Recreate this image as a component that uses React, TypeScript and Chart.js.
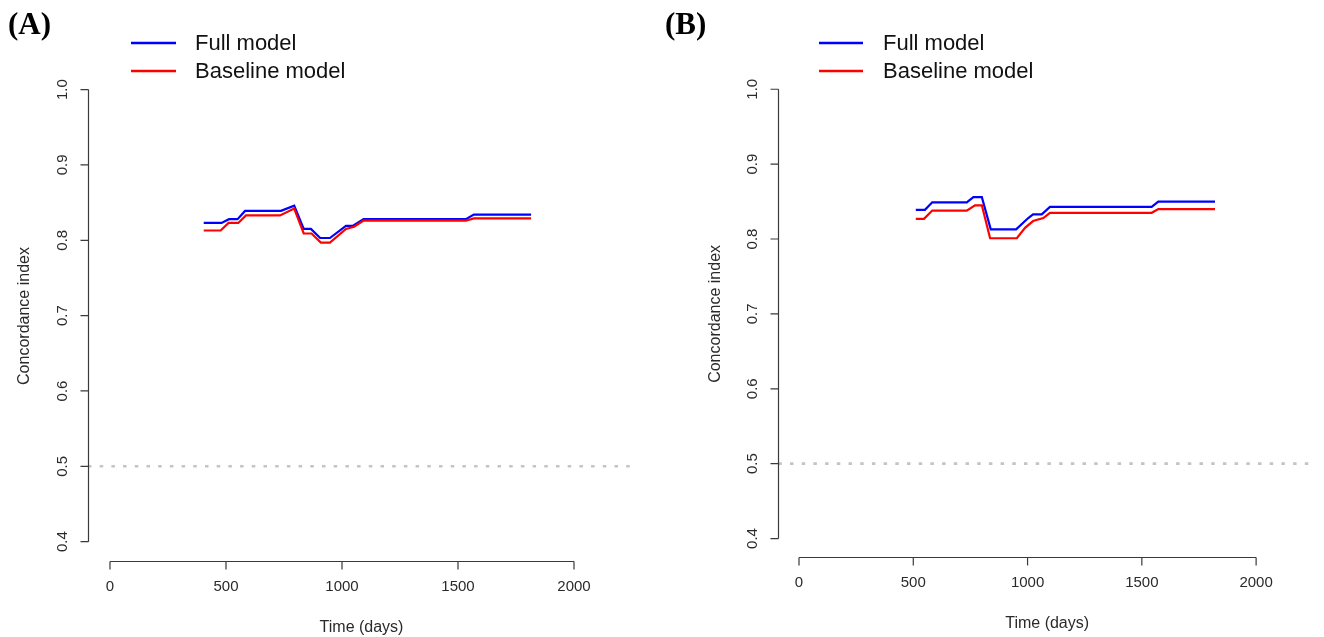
import React, { useEffect, useRef } from "react";
import { Chart, registerables } from "chart.js";

Chart.register(...registerables);

// ---------- data ----------
const xTickValues = [0, 500, 1000, 1500, 2000];
const xTickLabels = ["0", "500", "1000", "1500", "2000"];
const yTickValues = [0.4, 0.5, 0.6, 0.7, 0.8, 0.9, 1.0];
const yTickLabels = ["0.4", "0.5", "0.6", "0.7", "0.8", "0.9", "1.0"];
const seriesNames = ["Full model", "Baseline model"];
const seriesColors = ["#0000ff", "#ff0000"];
const referenceLevel = 0.5;
const xAxisTitle = "Time (days)";
const yAxisTitle = "Concordance index";
const panelLabels = ["(A)", "(B)"];

// Panel A
const timeAFull = [404, 481, 513, 550, 582, 737, 794, 835, 866, 906, 948, 1017, 1046, 1093, 1534, 1568, 1815];
const cindexAFull = [0.823, 0.823, 0.828, 0.828, 0.839, 0.839, 0.846, 0.815, 0.815, 0.803, 0.803, 0.819, 0.819, 0.828, 0.828, 0.834, 0.834];
const timeABase = [404, 477, 511, 553, 586, 733, 794, 835, 869, 909, 948, 1017, 1052, 1093, 1534, 1568, 1815];
const cindexABase = [0.813, 0.813, 0.823, 0.823, 0.833, 0.833, 0.842, 0.809, 0.809, 0.797, 0.797, 0.815, 0.818, 0.826, 0.826, 0.829, 0.829];

// Panel B
const timeBFull = [511, 551, 583, 734, 763, 800, 839, 950, 1003, 1024, 1062, 1098, 1543, 1572, 1820];
const cindexBFull = [0.839, 0.839, 0.849, 0.849, 0.856, 0.856, 0.813, 0.813, 0.828, 0.833, 0.833, 0.843, 0.843, 0.850, 0.850];
const timeBBase = [511, 547, 583, 734, 770, 800, 836, 953, 989, 1024, 1069, 1098, 1543, 1572, 1820];
const cindexBBase = [0.827, 0.827, 0.838, 0.838, 0.845, 0.845, 0.801, 0.801, 0.815, 0.824, 0.828, 0.835, 0.835, 0.840, 0.840];

// ---------- layout ----------
type PanelSpec = {
  label: string;
  canvasLeft: number;
  padding: { left: number; right: number; top: number; bottom: number };
  xMin: number;
  xMax: number;
  yMin: number;
  yMax: number;
  full: { t: number[]; c: number[] };
  base: { t: number[]; c: number[] };
  legendLineX: [number, number];
  legendTextX: number;
  legendY: [number, number];
  labelX: number;
};

const W = 662;
const H = 637;

const panels: PanelSpec[] = [
  {
    label: panelLabels[0],
    canvasLeft: 0,
    padding: { left: 88, right: W - 635, top: 71.5, bottom: H - 560.5 },
    xMin: -94.8,
    xMax: 2262.9,
    yMin: 0.375,
    yMax: 1.024,
    full: { t: timeAFull, c: cindexAFull },
    base: { t: timeABase, c: cindexABase },
    legendLineX: [131, 176],
    legendTextX: 195,
    legendY: [43, 71],
    labelX: 8,
  },
  {
    label: panelLabels[1],
    canvasLeft: 662,
    padding: { left: 116.3, right: W - 654, top: 71.3, bottom: H - 556.5 },
    xMin: -90.6,
    xMax: 2262,
    yMin: 0.376,
    yMax: 1.024,
    full: { t: timeBFull, c: cindexBFull },
    base: { t: timeBBase, c: cindexBBase },
    legendLineX: [819 - 662, 863 - 662],
    legendTextX: 883 - 662,
    legendY: [43, 71],
    labelX: 3,
  },
];

const FONT = "'Liberation Sans', Arial, sans-serif";

function makeAxesPlugin(spec: PanelSpec) {
  return {
    id: "rStyleAxes",
    afterDraw(chart: any) {
      const ctx: CanvasRenderingContext2D = chart.ctx;
      const xs = chart.scales.x;
      const ys = chart.scales.y;
      const area = chart.chartArea;
      ctx.save();
      ctx.strokeStyle = "#3a3a3a";
      ctx.fillStyle = "#2a2a2a";
      ctx.lineWidth = 1.2;

      // y axis
      const x0 = Math.round(area.left) + 0.5;
      const yTop = ys.getPixelForValue(yTickValues[yTickValues.length - 1]);
      const yBot = ys.getPixelForValue(yTickValues[0]);
      ctx.beginPath();
      ctx.moveTo(x0, yTop);
      ctx.lineTo(x0, yBot);
      yTickValues.forEach((v) => {
        const py = ys.getPixelForValue(v);
        ctx.moveTo(x0 - 8, py);
        ctx.lineTo(x0, py);
      });
      ctx.stroke();
      ctx.font = `15px ${FONT}`;
      ctx.textAlign = "center";
      ctx.textBaseline = "middle";
      yTickValues.forEach((v, i) => {
        const py = ys.getPixelForValue(v);
        ctx.save();
        ctx.translate(x0 - 26, py);
        ctx.rotate(-Math.PI / 2);
        ctx.fillText(yTickLabels[i], 0, 0);
        ctx.restore();
      });

      // x axis
      const y0 = Math.round(area.bottom) + 0.5;
      const xL = xs.getPixelForValue(xTickValues[0]);
      const xR = xs.getPixelForValue(xTickValues[xTickValues.length - 1]);
      ctx.beginPath();
      ctx.moveTo(xL, y0);
      ctx.lineTo(xR, y0);
      xTickValues.forEach((v) => {
        const px = xs.getPixelForValue(v);
        ctx.moveTo(px, y0);
        ctx.lineTo(px, y0 + 8);
      });
      ctx.stroke();
      xTickValues.forEach((v, i) => {
        const px = xs.getPixelForValue(v);
        ctx.fillText(xTickLabels[i], px, y0 + 25);
      });

      // axis titles
      ctx.font = `16px ${FONT}`;
      ctx.fillText(xAxisTitle, (area.left + area.right) / 2, y0 + 66);
      ctx.save();
      ctx.translate(area.left - 63, (area.top + area.bottom) / 2);
      ctx.rotate(-Math.PI / 2);
      ctx.fillText(yAxisTitle, 0, 0);
      ctx.restore();

      // legend
      ctx.font = `22px ${FONT}`;
      ctx.textAlign = "left";
      ctx.fillStyle = "#111";
      seriesNames.forEach((name, i) => {
        const ly = spec.legendY[i];
        ctx.strokeStyle = seriesColors[i];
        ctx.lineWidth = 2.5;
        ctx.beginPath();
        ctx.moveTo(spec.legendLineX[0], ly);
        ctx.lineTo(spec.legendLineX[1], ly);
        ctx.stroke();
        ctx.fillText(name, spec.legendTextX, ly + 1);
      });

      // panel label
      ctx.font = `bold 31px 'Liberation Serif', 'Times New Roman', serif`;
      ctx.fillStyle = "#000";
      ctx.textBaseline = "middle";
      ctx.fillText(spec.label, spec.labelX, 26);
      ctx.restore();
    },
  };
}

function Panel({ spec }: { spec: PanelSpec }) {
  const ref = useRef<HTMLCanvasElement | null>(null);
  useEffect(() => {
    if (!ref.current) return;
    const toPts = (t: number[], c: number[]) => t.map((x, i) => ({ x, y: c[i] }));
    const chart = new Chart(ref.current, {
      type: "line",
      data: {
        datasets: [
          {
            label: "reference",
            data: [
              { x: spec.xMin, y: referenceLevel },
              { x: spec.xMax, y: referenceLevel },
            ],
            borderColor: "#c4c4c4",
            borderWidth: 2.6,
            borderDash: [3.5, 8.2],
            pointRadius: 0,
            fill: false,
          },
          {
            label: seriesNames[1],
            data: toPts(spec.base.t, spec.base.c),
            borderColor: seriesColors[1],
            borderWidth: 2.2,
            pointRadius: 0,
            tension: 0,
            fill: false,
          },
          {
            label: seriesNames[0],
            data: toPts(spec.full.t, spec.full.c),
            borderColor: seriesColors[0],
            borderWidth: 2.2,
            pointRadius: 0,
            tension: 0,
            fill: false,
          },
        ],
      },
      options: {
        animation: false,
        responsive: false,
        devicePixelRatio: 1,
        layout: { padding: spec.padding },
        plugins: { legend: { display: false }, tooltip: { enabled: false } },
        scales: {
          x: { type: "linear", min: spec.xMin, max: spec.xMax, display: false },
          y: { type: "linear", min: spec.yMin, max: spec.yMax, display: false },
        },
      },
      plugins: [makeAxesPlugin(spec)],
    } as any);
    return () => chart.destroy();
  }, [spec]);
  return (
    <canvas
      ref={ref}
      width={W}
      height={H}
      style={{ position: "absolute", left: spec.canvasLeft, top: 0, width: W, height: H }}
    />
  );
}

export default function App() {
  return (
    <div style={{ position: "fixed", left: 0, top: 0, width: 1324, height: 637, background: "#fff" }}>
      {panels.map((p) => (
        <Panel key={p.label} spec={p} />
      ))}
    </div>
  );
}
